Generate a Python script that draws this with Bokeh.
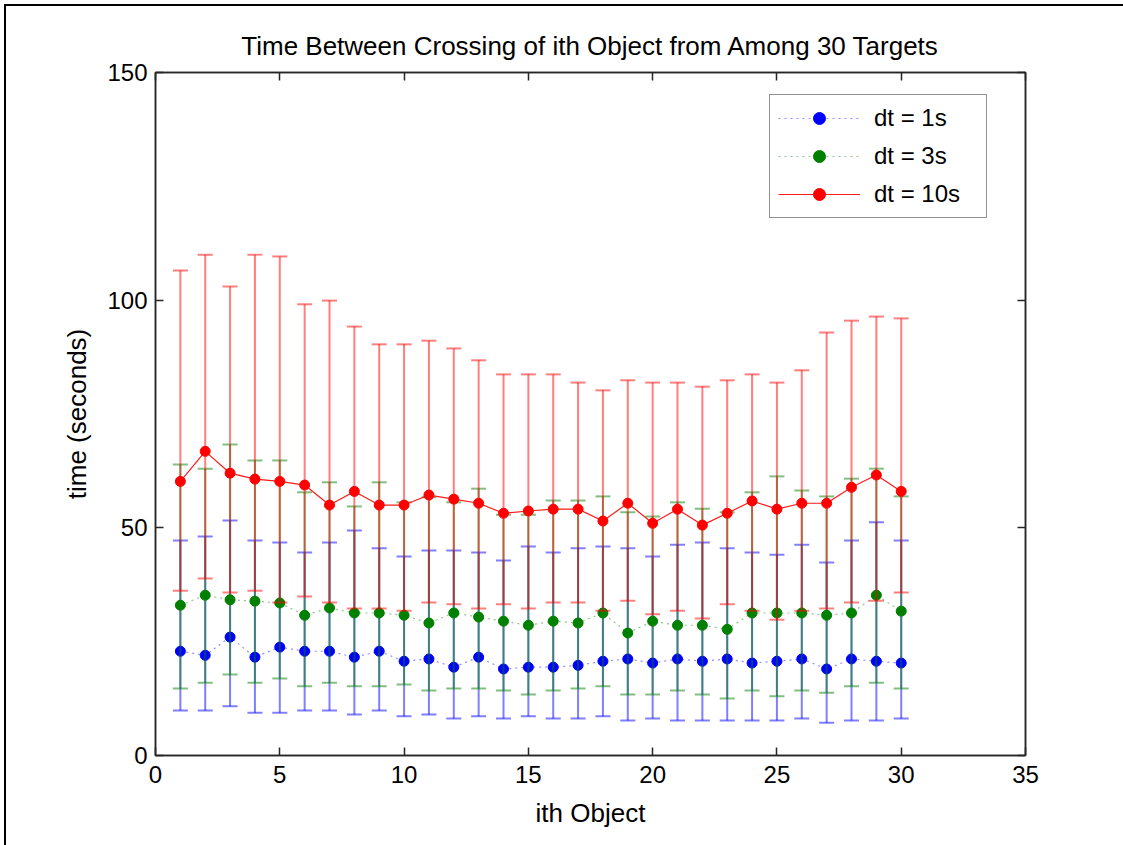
from bokeh.plotting import figure
from bokeh.models import (LinearAxis, FixedTicker, Range1d, ColumnDataSource, Legend, LegendItem,
                          CustomJSTickFormatter)
from bokeh.embed import file_html
from bokeh.resources import INLINE

objects = list(range(1, 31))

blue_mean = [22.9, 22.0, 26.0, 21.6, 23.8, 22.9, 22.9, 21.6, 22.9, 20.7, 21.2, 19.4, 21.6, 19.0, 19.4,
             19.4, 19.8, 20.7, 21.2, 20.3, 21.2, 20.7, 21.2, 20.3, 20.7, 21.2, 19.0, 21.2, 20.7, 20.3]
blue_low = [9.9, 9.9, 10.8, 9.4, 9.4, 9.9, 9.9, 9.0, 9.9, 8.6, 9.0, 8.1, 8.6, 8.1, 8.6,
            8.1, 8.1, 8.6, 7.7, 8.1, 7.7, 7.7, 7.7, 7.7, 7.7, 8.1, 7.2, 7.7, 7.7, 8.1]
blue_high = [47.2, 48.1, 51.6, 47.2, 46.8, 44.6, 46.8, 49.4, 45.5, 43.7, 45.0, 45.0, 44.6, 42.8, 45.9,
             44.6, 45.5, 45.9, 45.5, 43.7, 46.3, 46.8, 45.5, 44.6, 44.1, 46.3, 42.4, 47.2, 51.2, 47.2]

green_mean = [33.0, 35.2, 34.2, 33.9, 33.5, 30.8, 32.4, 31.3, 31.3, 30.8, 29.1, 31.3, 30.4, 29.5, 28.6,
              29.5, 29.1, 31.3, 26.9, 29.5, 28.6, 28.6, 27.7, 31.3, 31.3, 31.3, 30.8, 31.3, 35.2, 31.7]
green_low = [14.7, 16.0, 17.8, 16.0, 16.9, 15.2, 16.0, 15.2, 15.2, 15.6, 14.3, 14.7, 14.7, 14.3, 13.4,
             14.3, 14.7, 15.2, 13.4, 13.4, 14.3, 13.4, 12.5, 14.3, 13.0, 14.3, 13.8, 15.2, 16.0, 14.7]
green_high = [63.9, 63.0, 68.3, 64.8, 64.8, 57.8, 60.0, 54.7, 60.0, 55.6, 56.7, 55.6, 58.6, 52.9, 52.9,
              56.0, 56.0, 56.9, 53.4, 52.5, 55.6, 54.2, 53.4, 57.8, 61.3, 58.2, 56.9, 60.8, 63.0, 56.9]

red_mean = [60.2, 66.8, 62.0, 60.7, 60.2, 59.4, 55.0, 58.0, 55.0, 55.0, 57.2, 56.3, 55.4, 53.2, 53.7,
            54.1, 54.1, 51.5, 55.4, 51.0, 54.1, 50.6, 53.2, 55.9, 54.1, 55.4, 55.4, 58.9, 61.6, 58.0]
red_low = [36.2, 38.9, 35.8, 36.2, 33.6, 34.9, 33.6, 32.3, 32.3, 31.8, 33.6, 33.2, 32.3, 33.2, 32.3,
           33.6, 33.6, 31.8, 34.0, 31.0, 31.8, 30.1, 33.2, 31.8, 29.8, 31.8, 32.3, 33.6, 34.0, 35.8]
red_high = [106.5, 110.0, 103.0, 110.0, 109.6, 99.1, 99.9, 94.2, 90.3, 90.3, 91.1, 89.4, 86.8, 83.7, 83.7,
            83.7, 81.9, 80.2, 82.4, 81.9, 81.9, 81.0, 82.4, 83.7, 81.9, 84.6, 92.9, 95.5, 96.4, 96.0]

series_labels = ["dt = 1s", "dt = 3s", "dt = 10s"]
x_ticks = [0, 5, 10, 15, 20, 25, 30, 35]
y_ticks = [0, 50, 100, 150]

FONT = "Liberation Sans"

p = figure(frame_width=870, frame_height=683, output_backend="svg", toolbar_location=None,
           x_range=Range1d(0, 35), y_range=Range1d(0, 150),
           min_border_left=149, min_border_top=66, min_border_right=98, min_border_bottom=90,
           title="Time Between Crossing of ith Object from Among 30 Targets")
p.styles = {"margin-left": "4px", "margin-top": "4px",
            "border-left": "2px solid black", "border-top": "2px solid black"}
p.title.align = "center"
p.title.text_font = FONT
p.title.text_font_size = "26px"
p.title.text_font_style = "normal"
p.title.text_color = "black"
p.title.standoff = 23

p.xgrid.visible = False
p.ygrid.visible = False
p.outline_line_color = "#262626"
p.outline_line_width = 1.5
p.background_fill_color = "white"
p.border_fill_color = "white"

def style_axis(ax, ticks, show_labels):
    ax.ticker = FixedTicker(ticks=ticks)
    ax.major_tick_in = 8
    ax.major_tick_out = 0
    ax.minor_tick_line_color = None
    ax.axis_line_color = "#262626"
    ax.axis_line_width = 1.5
    ax.major_tick_line_color = "#262626"
    ax.major_tick_line_width = 1.5
    ax.major_label_text_font = FONT
    ax.major_label_text_color = "black"
    if not show_labels:
        ax.formatter = CustomJSTickFormatter(code="return ''")
        ax.major_label_text_color = None
        ax.major_label_standoff = 0

style_axis(p.xaxis[0], x_ticks, True)
style_axis(p.yaxis[0], y_ticks, True)
p.xaxis[0].major_label_text_font_size = "24px"
p.yaxis[0].major_label_text_font_size = "24px"
p.xaxis[0].major_label_standoff = 10
p.yaxis[0].major_label_standoff = 8
p.xaxis[0].axis_label = "ith Object"
p.yaxis[0].axis_label = "time (seconds)"
for ax in (p.xaxis[0], p.yaxis[0]):
    ax.axis_label_text_font = FONT
    ax.axis_label_text_font_size = "26px"
    ax.axis_label_text_font_style = "normal"
    ax.axis_label_text_color = "black"
p.xaxis[0].axis_label_standoff = 12
p.yaxis[0].axis_label_standoff = 12

right_ax = LinearAxis()
style_axis(right_ax, y_ticks, False)
p.add_layout(right_ax, "right")
top_ax = LinearAxis()
style_axis(top_ax, x_ticks, False)
p.add_layout(top_ax, "above")

series = [
    (blue_mean, blue_low, blue_high, "blue", "dotted", 0.45),
    (green_mean, green_low, green_high, "green", "dotted", 0.45),
    (red_mean, red_low, red_high, "red", "solid", 0.9),
]

items = []
for (mean, low, high, color, dash, lalpha), label in zip(series, series_labels):
    src = ColumnDataSource(dict(x=objects, m=mean, lo=low, hi=high))
    p.segment(x0="x", y0="lo", x1="x", y1="hi", source=src, line_color=color,
              line_alpha=0.5, line_width=2)
    p.scatter(x="x", y="lo", source=src, marker="dash", size=15, line_color=color,
              line_alpha=0.5, line_width=2)
    p.scatter(x="x", y="hi", source=src, marker="dash", size=15, line_color=color,
              line_alpha=0.5, line_width=2)
    ln = p.line(x="x", y="m", source=src, line_color=color, line_alpha=lalpha,
                line_width=1.2, line_dash=dash)
    mk = p.scatter(x="x", y="m", source=src, marker="circle", size=10,
                   fill_color=color, line_color=color)
    items.append(LegendItem(label=label, renderers=[ln, mk]))

legend = Legend(items=items, location=(614, 537))
legend.label_text_font = FONT
legend.label_text_font_size = "24px"
legend.label_text_color = "black"
legend.glyph_width = 82
legend.glyph_height = 30
legend.label_height = 30
legend.label_width = 104
legend.label_standoff = 14
legend.spacing = 8
legend.padding = 8
legend.margin = 0
legend.border_line_color = "#262626"
legend.border_line_width = 1.5
legend.background_fill_alpha = 1
p.add_layout(legend, "center")

open("out.html", "w").write(file_html(p, INLINE))
